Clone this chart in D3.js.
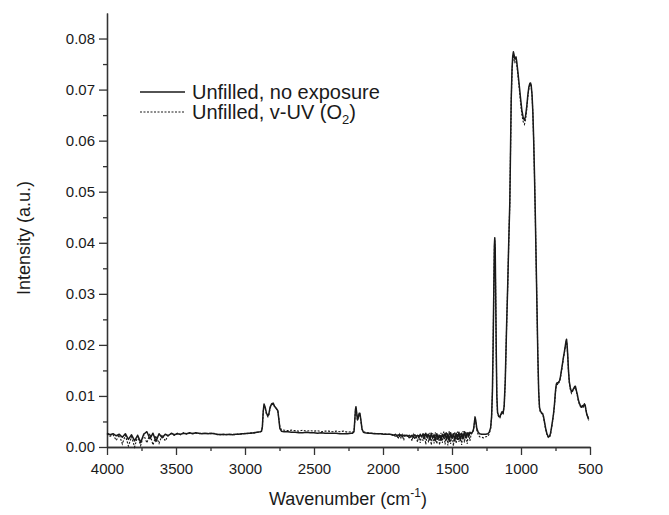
<!DOCTYPE html>
<html><head><meta charset="utf-8">
<script src="https://cdn.jsdelivr.net/npm/d3@7"></script>
<style>body{margin:0;background:#fff}svg{display:block}</style>
</head><body>
<svg id="chart" width="669" height="515"></svg>
<script>
// [wavenumber cm-1, intensity a.u.]
const noExposure = [
[4000,.0027],[3978,.0024],[3956,.0026],[3933,.0022],[3911,.0025],[3889,.0019],[3867,.0026],[3845,.0015],[3822,.0024],[3800,.0012],
[3778,.0023],[3756,.0009],[3734,.0025],[3711,.0030],[3689,.0016],[3667,.0027],[3645,.0011],[3623,.0026],[3600,.0018],[3578,.0025],
[3556,.0022],[3534,.0027],[3512,.0024],[3490,.0026],[3467,.0025],[3445,.0027],[3423,.0026],[3401,.0028],[3379,.0026],[3357,.0028],
[3335,.0027],[3312,.0026],[3290,.0027],[3268,.0026],[3246,.0027],[3224,.0026],[3202,.0025],[3179,.0024],[3157,.0025],[3135,.0024],
[3113,.0025],[3091,.0024],[3068,.0025],[3046,.0025],[3024,.0026],[3002,.0026],[2980,.0027],[2957,.0027],[2935,.0028],[2913,.0029],
[2891,.0030],[2880,.0031],
[2874,.0040],[2868,.0070],[2862,.0084],[2854,.0078],[2844,.0066],[2834,.0061],[2827,.0065],[2818,.0078],[2806,.0085],[2796,.0086],
[2786,.0080],[2774,.0076],[2762,.0071],[2755,.0055],[2747,.0036],[2736,.0031],[2717,.0030],[2690,.0030],[2663,.0029],[2636,.0029],
[2609,.0028],[2582,.0028],[2555,.0029],[2528,.0028],[2501,.0028],[2474,.0027],[2447,.0028],[2420,.0027],[2393,.0027],[2366,.0027],
[2339,.0027],[2312,.0026],[2285,.0026],[2258,.0026],[2232,.0027],[2221,.0027],[2210,.0030],
[2205,.0050],[2200,.0072],[2196,.0079],[2191,.0068],[2185,.0053],[2179,.0058],[2173,.0066],[2167,.0066],[2160,.0052],[2152,.0035],[2142,.0029],
[2131,.0028],[2109,.0027],[2086,.0027],[2063,.0026],[2041,.0026],[2018,.0026],[1995,.0025],[1973,.0025],[1950,.0025],
[1930,.0024],[1920,.0023],[1910,.0025],[1900,.0022],[1890,.0024],[1880,.0021],[1870,.0024],[1860,.0020],[1850,.0023],[1840,.0022],
[1830,.0023],[1820,.0021],[1810,.0023],[1800,.0020],[1790,.0023],[1780,.0019],[1770,.0024],[1760,.0021],[1750,.0023],[1740,.0018],
[1730,.0025],[1720,.0020],[1710,.0026],[1700,.0017],[1690,.0027],[1680,.0019],[1670,.0025],[1660,.0014],[1650,.0027],[1640,.0017],
[1630,.0024],[1620,.0012],[1610,.0026],[1600,.0016],[1590,.0023],[1580,.0013],[1570,.0025],[1560,.0018],[1550,.0027],[1540,.0014],
[1530,.0026],[1520,.0011],[1510,.0028],[1500,.0017],[1490,.0026],[1480,.0012],[1470,.0027],[1460,.0015],[1450,.0029],[1440,.0013],
[1430,.0027],[1420,.0016],[1410,.0030],[1400,.0018],[1390,.0028],[1380,.0020],[1370,.0029],[1360,.0026],
[1350,.0030],[1343,.0036],[1337,.0050],[1333,.0059],[1328,.0052],[1320,.0036],[1310,.0029],[1300,.0026],[1285,.0025],[1270,.0025],
[1255,.0025],[1240,.0026],[1230,.0029],[1220,.0038],[1213,.0060],[1207,.0110],[1202,.0200],[1197,.0310],[1193,.0395],[1190,.0410],
[1187,.0390],[1183,.0290],[1179,.0180],[1175,.0100],[1170,.0068],[1161,.0060],[1153,.0059],[1146,.0064],[1138,.0069],[1130,.0066],
[1122,.0080],[1114,.0130],[1105,.0230],[1096,.0320],[1089,.0400],[1081,.0480],[1076,.0580],[1071,.0680],[1065,.0740],[1060,.0765],
[1055,.0774],[1050,.0768],[1045,.0760],[1040,.0762],[1036,.0764],[1031,.0755],[1024,.0738],[1014,.0712],[1004,.0685],[994,.0660],
[984,.0645],[975,.0640],[967,.0648],[959,.0665],[951,.0688],[943,.0705],[936,.0712],[931,.0713],[926,.0708],[920,.0690],
[914,.0655],[908,.0600],[902,.0530],[896,.0450],[890,.0360],[884,.0270],[878,.0180],[872,.0110],[866,.0078],[859,.0070],
[851,.0067],[844,.0066],[837,.0060],[829,.0048],[821,.0036],[813,.0027],[806,.0022],[800,.0020],[793,.0021],[786,.0027],
[779,.0038],[771,.0052],[764,.0066],[757,.0085],[750,.0110],[744,.0123],[738,.0126],[732,.0125],[726,.0128],[720,.0130],
[714,.0138],[707,.0150],[700,.0162],[693,.0175],[686,.0186],[679,.0198],[674,.0207],[670,.0211],[666,.0200],[661,.0178],
[656,.0150],[650,.0128],[642,.0115],[634,.0108],[628,.0110],[620,.0114],[612,.0118],[606,.0119],[600,.0112],[592,.0103],
[584,.0092],[576,.0085],[568,.0080],[562,.0078],[555,.0081],[548,.0079],[541,.0084],[535,.0082],[528,.0070],[522,.0063],
[515,.0058],[510,.0054]
];
const vuvO2 = [
[4000,.0026],[3978,.0021],[3956,.0024],[3933,.0013],[3911,.0024],[3889,.0006],[3867,.0023],[3845,.0002],[3822,.0020],[3800,.0000],
[3778,.0021],[3756,.0003],[3734,.0024],[3711,.0008],[3689,.0026],[3667,.0004],[3645,.0022],[3623,.0007],[3600,.0024],[3578,.0012],
[3556,.0023],[3534,.0026],[3512,.0023],[3490,.0027],[3467,.0024],[3445,.0028],[3423,.0025],[3401,.0027],[3379,.0027],[3357,.0027],
[3335,.0026],[3312,.0027],[3290,.0026],[3268,.0027],[3246,.0026],[3224,.0027],[3202,.0024],[3179,.0025],[3157,.0024],[3135,.0025],
[3113,.0024],[3091,.0025],[3068,.0024],[3046,.0026],[3024,.0025],[3002,.0027],[2980,.0026],[2957,.0028],[2935,.0027],[2913,.0029],
[2891,.0029],[2880,.0031],
[2874,.0039],[2868,.0068],[2862,.0082],[2854,.0076],[2844,.0064],[2834,.0059],[2827,.0063],[2818,.0076],[2806,.0083],[2796,.0084],
[2786,.0079],[2774,.0075],[2762,.0070],[2755,.0056],[2747,.0039],[2736,.0034],[2717,.0033],[2690,.0032],[2663,.0033],[2636,.0032],
[2609,.0031],[2582,.0033],[2555,.0031],[2528,.0032],[2501,.0031],[2474,.0032],[2447,.0030],[2420,.0031],[2393,.0031],[2366,.0030],
[2339,.0031],[2312,.0030],[2285,.0031],[2258,.0029],[2232,.0030],[2221,.0029],[2210,.0031],
[2205,.0049],[2200,.0070],[2196,.0076],[2191,.0066],[2185,.0052],[2179,.0057],[2173,.0064],[2167,.0064],[2160,.0051],[2152,.0035],[2142,.0030],
[2131,.0029],[2109,.0028],[2086,.0027],[2063,.0027],[2041,.0026],[2018,.0026],[1995,.0026],[1973,.0025],[1950,.0025],
[1930,.0023],[1920,.0025],[1910,.0019],[1900,.0024],[1890,.0016],[1880,.0025],[1870,.0018],[1860,.0024],[1850,.0013],[1840,.0023],
[1830,.0021],[1820,.0024],[1810,.0016],[1800,.0023],[1790,.0012],[1780,.0024],[1770,.0015],[1760,.0022],[1750,.0010],[1740,.0025],
[1730,.0008],[1720,.0024],[1710,.0012],[1700,.0027],[1690,.0005],[1680,.0026],[1670,.0009],[1660,.0028],[1650,.0004],[1640,.0027],
[1630,.0007],[1620,.0029],[1610,.0006],[1600,.0025],[1590,.0004],[1580,.0028],[1570,.0008],[1560,.0030],[1550,.0005],[1540,.0029],
[1530,.0003],[1520,.0031],[1510,.0006],[1500,.0026],[1490,.0002],[1480,.0029],[1470,.0007],[1460,.0030],[1450,.0010],[1440,.0028],
[1430,.0004],[1420,.0031],[1410,.0009],[1400,.0030],[1390,.0006],[1380,.0029],[1370,.0012],[1360,.0027],
[1350,.0028],[1343,.0034],[1337,.0048],[1333,.0056],[1328,.0050],[1320,.0033],[1310,.0024],[1300,.0020],[1285,.0019],[1270,.0018],
[1255,.0020],[1240,.0021],[1230,.0026],[1220,.0036],[1213,.0058],[1207,.0108],[1202,.0198],[1197,.0305],[1193,.0390],[1190,.0405],
[1187,.0385],[1183,.0287],[1179,.0178],[1175,.0098],[1170,.0066],[1161,.0058],[1153,.0057],[1146,.0062],[1138,.0067],[1130,.0065],
[1122,.0079],[1114,.0128],[1105,.0228],[1096,.0318],[1089,.0398],[1081,.0478],[1076,.0576],[1071,.0675],[1065,.0735],[1060,.0760],
[1055,.0768],[1050,.0758],[1045,.0752],[1040,.0757],[1036,.0760],[1031,.0750],[1024,.0733],[1014,.0706],[1004,.0677],[994,.0651],
[984,.0637],[975,.0632],[967,.0641],[959,.0660],[951,.0684],[943,.0702],[936,.0710],[931,.0711],[926,.0706],[920,.0688],
[914,.0653],[908,.0598],[902,.0528],[896,.0448],[890,.0358],[884,.0268],[878,.0178],[872,.0108],[866,.0076],[859,.0068],
[851,.0066],[844,.0064],[837,.0058],[829,.0046],[821,.0034],[813,.0025],[806,.0020],[800,.0018],[793,.0019],[786,.0025],
[779,.0036],[771,.0050],[764,.0064],[757,.0083],[750,.0108],[744,.0121],[738,.0123],[732,.0122],[726,.0126],[720,.0128],
[714,.0136],[707,.0148],[700,.0160],[693,.0173],[686,.0184],[679,.0196],[674,.0204],[670,.0208],[666,.0198],[661,.0176],
[656,.0148],[650,.0126],[642,.0112],[634,.0105],[628,.0108],[620,.0112],[612,.0116],[606,.0117],[600,.0110],[592,.0100],
[584,.0090],[576,.0083],[568,.0079],[562,.0076],[555,.0082],[548,.0077],[541,.0086],[535,.0080],[528,.0073],[522,.0061],
[515,.0060],[510,.0052]
];
const xMajorTicks = [4000,3500,3000,2500,2000,1500,1000,500];
const xMinorTicks = [3750,3250,2750,2250,1750,1250,750];
const yMajorTicks = [0,0.01,0.02,0.03,0.04,0.05,0.06,0.07,0.08];
const yMinorTicks = [0.005,0.015,0.025,0.035,0.045,0.055,0.065,0.075];
const seriesLabels = ["Unfilled, no exposure", "Unfilled, v-UV (O", "2", ")"];
const axisTitles = ["Wavenumber (cm", "-1", ")", "Intensity (a.u.)"];

const FONT = "'Liberation Sans', Arial, Helvetica, sans-serif";
const INK = "#1a1a1a";
const svg = d3.select("#chart");
const x = d3.scaleLinear().domain([4000, 500]).range([107, 590]);
const y = d3.scaleLinear().domain([0, 0.085]).range([447, 13]);

function styleAxis(g){
  g.selectAll("path.domain").attr("stroke", "#333").attr("stroke-width", 1.3);
  g.selectAll(".tick line").attr("stroke", "#333").attr("stroke-width", 1.3);
  g.selectAll("text").attr("fill", INK).style("font-family", FONT).style("font-size", "15px");
}
svg.append("g").attr("transform", "translate(0,447)")
  .call(d3.axisBottom(x).tickValues(xMinorTicks).tickSize(4).tickSizeOuter(0).tickFormat(""))
  .call(styleAxis);
svg.append("g").attr("transform", "translate(0,447)")
  .call(d3.axisBottom(x).tickValues(xMajorTicks).tickSize(8).tickPadding(8).tickSizeOuter(0).tickFormat(d3.format("d")))
  .call(styleAxis);
svg.append("g").attr("transform", "translate(107,0)")
  .call(d3.axisLeft(y).tickValues(yMinorTicks).tickSize(4).tickSizeOuter(0).tickFormat(""))
  .call(styleAxis);
svg.append("g").attr("transform", "translate(107,0)")
  .call(d3.axisLeft(y).tickValues(yMajorTicks).tickSize(8).tickPadding(4).tickSizeOuter(0).tickFormat(d3.format(".2f")))
  .call(styleAxis);

const line = d3.line().x(d => x(d[0])).y(d => y(d[1]));
svg.append("path").datum(noExposure).attr("d", line)
  .attr("fill", "none").attr("stroke", INK).attr("stroke-width", 1.5).attr("stroke-linejoin", "round");
svg.append("path").datum(vuvO2).attr("d", line)
  .attr("fill", "none").attr("stroke", INK).attr("stroke-width", 1.1).attr("stroke-dasharray", "2,1.5");

// legend
const lg = svg.append("g");
lg.append("line").attr("x1", 140).attr("x2", 185).attr("y1", 92).attr("y2", 92)
  .attr("stroke", INK).attr("stroke-width", 1.5);
lg.append("line").attr("x1", 140).attr("x2", 185).attr("y1", 112).attr("y2", 112)
  .attr("stroke", INK).attr("stroke-width", 1.1).attr("stroke-dasharray", "2,1.5");
lg.append("text").attr("x", 192).attr("y", 99).text(seriesLabels[0])
  .attr("fill", INK).style("font-family", FONT).style("font-size", "20px");
const t2 = lg.append("text").attr("x", 192).attr("y", 119)
  .attr("fill", INK).style("font-family", FONT).style("font-size", "20px");
t2.append("tspan").text(seriesLabels[1]);
t2.append("tspan").attr("dy", 5).style("font-size", "13px").text(seriesLabels[2]);
t2.append("tspan").attr("dy", -5).text(seriesLabels[3]);

// axis titles
const xt = svg.append("text").attr("x", 348).attr("y", 505).attr("text-anchor", "middle")
  .attr("fill", INK).style("font-family", FONT).style("font-size", "18px");
xt.append("tspan").text(axisTitles[0]);
xt.append("tspan").attr("dy", -8).style("font-size", "12px").text(axisTitles[1]);
xt.append("tspan").attr("dy", 8).text(axisTitles[2]);
svg.append("text").attr("transform", "translate(30,238) rotate(-90)").attr("text-anchor", "middle")
  .attr("fill", INK).style("font-family", FONT).style("font-size", "18px").text(axisTitles[3]);
</script>
</body></html>
